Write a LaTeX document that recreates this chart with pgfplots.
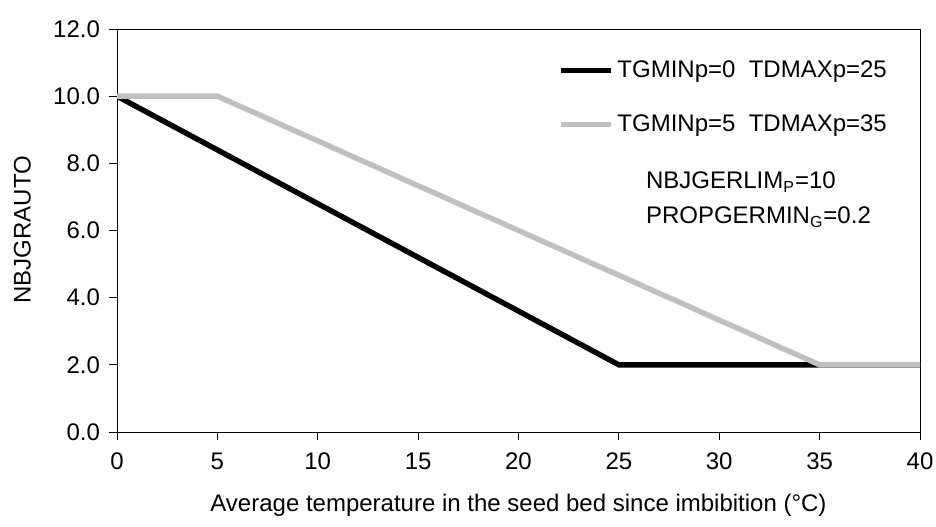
\documentclass[border=0pt]{standalone}
\usepackage{fontspec}
\setmainfont{Liberation Sans}
\usepackage{pgfplots}
\pgfplotsset{compat=1.18}
\usepackage{pgfplotstable}

% NBJGRAUTO vs temperature, two parameter sets
\pgfplotstableread{
x y
0 10.00
1 9.68
2 9.36
3 9.04
4 8.72
5 8.40
6 8.08
7 7.76
8 7.44
9 7.12
10 6.80
11 6.48
12 6.16
13 5.84
14 5.52
15 5.20
16 4.88
17 4.56
18 4.24
19 3.92
20 3.60
21 3.28
22 2.96
23 2.64
24 2.32
25 2.00
30 2.00
35 2.00
40 2.00
}\blackdata

\pgfplotstableread{
x y
0 10.00
1 10.00
2 10.00
3 10.00
4 10.00
5 10.00
6 9.73
7 9.47
8 9.20
9 8.93
10 8.67
11 8.40
12 8.13
13 7.87
14 7.60
15 7.33
16 7.07
17 6.80
18 6.53
19 6.27
20 6.00
21 5.73
22 5.47
23 5.20
24 4.93
25 4.67
26 4.40
27 4.13
28 3.87
29 3.60
30 3.33
31 3.07
32 2.80
33 2.53
34 2.27
35 2.00
36 2.00
37 2.00
38 2.00
39 2.00
40 2.00
}\graydata

\definecolor{lightgr}{RGB}{192,192,192}

\begin{document}
\begin{tikzpicture}
\begin{axis}[
    scale only axis,
    width=401.5pt, height=201.5pt,
    xmin=0, xmax=40, ymin=0, ymax=12,
    xtick={0,5,...,40},
    ytick={0,2,...,12},
    tick pos=left,
    tick align=outside,
    major tick length=4pt,
    tick style={black, thin},
    axis line style={black, thin},
    font=\fontsize{12}{14}\selectfont,
    /pgf/number format/assume math mode=true,
    yticklabel style={/pgf/number format/fixed, /pgf/number format/fixed zerofill,
        /pgf/number format/precision=1, xshift=-1pt},
    xticklabel style={yshift=-3pt},
    xlabel={Average temperature in the seed bed since imbibition (°C)},
    ylabel={NBJGRAUTO},
    xlabel style={at={(axis description cs:0.5,-0.181)}, anchor=center},
    ylabel style={at={(axis description cs:-0.118,0.502)}, anchor=center},
    legend cell align=left,
    legend style={draw=none, fill=none, at={(axis cs:21.65,11.3)}, anchor=north west,
        row sep=13pt, font=\fontsize{12}{14}\selectfont,
        /tikz/every even column/.append style={column sep=2pt}},
    legend image code/.code={\draw[#1] (0pt,0pt) -- (25pt,0pt);},
]
\addplot[black, line width=2.7pt] table[x=x, y=y] {\blackdata};
\addlegendentry{TGMINp=0\ \ TDMAXp=25}
\addplot[lightgr, line width=2.7pt] table[x=x, y=y] {\graydata};
\addlegendentry{TGMINp=5\ \ TDMAXp=35}

\node[anchor=west, font=\fontsize{12}{14}\selectfont] at (axis cs:26.0,7.44) {NBJGERLIM\textsubscript{P}=10};
\node[anchor=west, font=\fontsize{12}{14}\selectfont] at (axis cs:26.0,6.40) {PROPGERMIN\textsubscript{G}=0.2};

\coordinate (bl) at (rel axis cs:0,0);
\coordinate (tr) at (rel axis cs:1,1);
\end{axis}
\pgfresetboundingbox
\path[use as bounding box] ([shift={(-58.5pt,-47pt)}]bl) rectangle ([shift={(8pt,14.5pt)}]tr);
\end{tikzpicture}
\end{document}
